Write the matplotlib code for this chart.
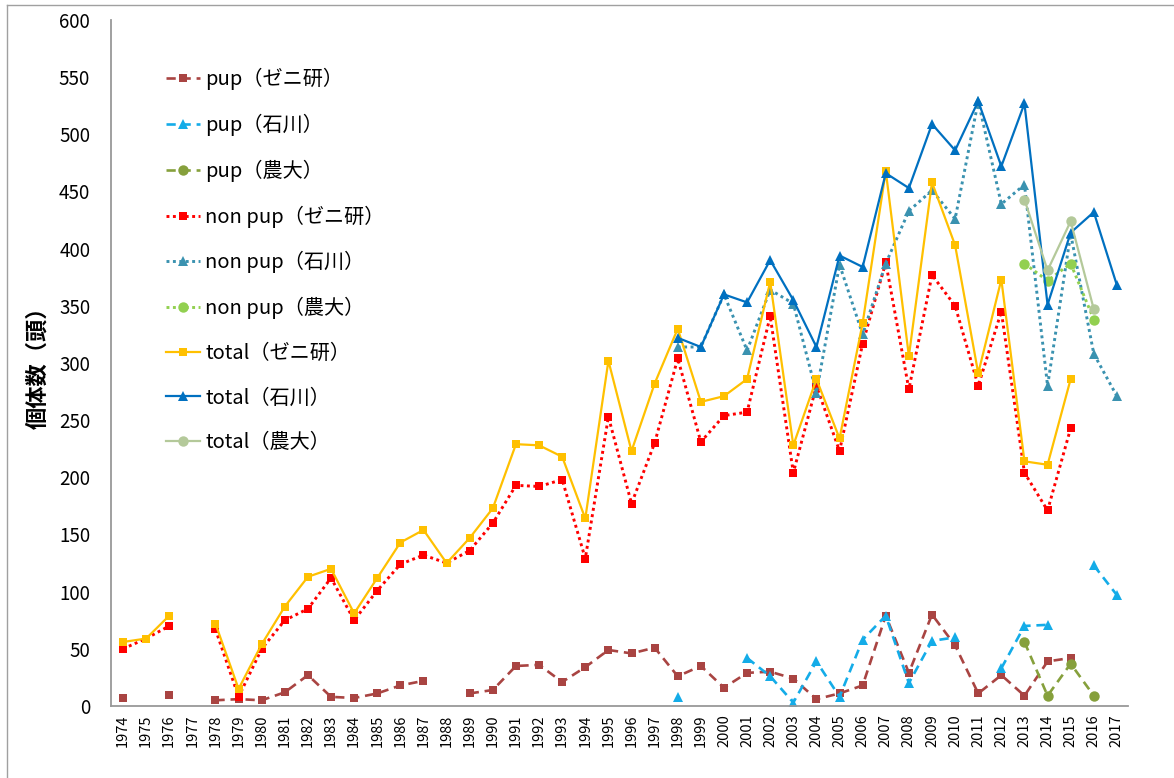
import matplotlib
matplotlib.use('Agg')
import matplotlib.pyplot as plt
from matplotlib.lines import Line2D
import numpy as np

plt.rcParams['font.family'] = ['Noto Sans CJK JP', 'DejaVu Sans']

nan = np.nan
years = list(range(1974, 2018))

# --- data ---
pup_zeni = [7, nan, 10, nan, 5, 6, 5, 12, 27, 8, 7, 11, 18, 22, nan, 11, 14, 35, 36, 21,
            34, 49, 46, 51, 26, 35, 16, 29, 30, 24, 6, 11, 18, 79, 29, 80, 53, 11, 27, 9,
            39, 42, nan, nan]
pup_ishi = [nan] * 24 + [8, nan, nan, 42, 26, 3, 39, 8, 58, 79, 20, 57, 60, nan, 33, 70,
                         71, nan, 123, 97]
pup_nodai = [nan] * 39 + [56, 9, 37, 9, nan]
nonpup_zeni = [50, 59, 70, nan, 67, 8, 50, 75, 85, 112, 75, 101, 124, 132, 125, 136, 160,
               193, 192, 198, 129, 253, 177, 230, 304, 231, 254, 257, 341, 204, 280, 223,
               317, 388, 277, 377, 350, 280, 345, 204, 171, 243, nan, nan]
nonpup_ishi = [nan] * 24 + [314, 314, 360, 311, 364, 352, 274, 386, 325, 387, 433, 451,
                            426, 529, 439, 456, 280, 413, 308, 271]
nonpup_nodai = [nan] * 39 + [387, 372, 387, 338, nan]
total_zeni = [56, 59, 79, nan, 72, 15, 54, 87, 113, 120, 81, 112, 143, 154, 125, 147, 173,
              229, 228, 218, 164, 302, 223, 282, 330, 266, 271, 286, 371, 228, 286, 234,
              335, 468, 306, 458, 403, 291, 373, 214, 211, 286, nan, nan]
total_ishi = [nan] * 24 + [322, 314, 360, 353, 390, 355, 314, 394, 384, 466, 453, 509,
                           486, 529, 472, 527, 351, 414, 432, 368]
total_nodai = [nan] * 39 + [443, 381, 424, 347, nan]

y_ticks = list(range(0, 601, 50))

# label, values, color, style, marker, markersize
SERIES = [
    ('pup（ゼニ研）', pup_zeni, '#A94442', 'dash', 's', 6),
    ('pup（石川）', pup_ishi, '#14ACE8', 'dash', '^', 7),
    ('pup（農大）', pup_nodai, '#86A03C', 'dash', 'o', 7.5),
    ('non pup（ゼニ研）', nonpup_zeni, '#FF0000', 'dot', 's', 6),
    ('non pup（石川）', nonpup_ishi, '#3A92B0', 'dot', '^', 7),
    ('non pup（農大）', nonpup_nodai, '#92D050', 'dot', 'o', 7.5),
    ('total（ゼニ研）', total_zeni, '#FFC000', 'solid', 's', 6),
    ('total（石川）', total_ishi, '#0070C0', 'solid', '^', 7),
    ('total（農大）', total_nodai, '#B4C99A', 'solid', 'o', 7.5),
]

fig = plt.figure(figsize=(11.74, 7.78), dpi=100)
ax = fig.add_axes([111 / 1174, 1 - 706 / 778, (1128 - 111) / 1174, (706 - 20) / 778])

for label, vals, color, style, marker, ms in SERIES:
    if style == 'dash':
        ls, lw = (0, (3.5, 2.2)), 1.9
    elif style == 'dot':
        ls, lw = (0, (1, 1.2)), 2.1
    else:
        ls, lw = '-', 1.6
    ax.plot(years, vals, color=color, linestyle=ls, linewidth=lw,
            marker=marker, markersize=ms, markeredgewidth=0, label=label)

ax.set_xlim(1973.48, 2017.48)
ax.set_ylim(0, 600)
ax.set_yticks(y_ticks)
ax.set_yticklabels([str(v) for v in y_ticks], fontsize=13.5)
ax.set_xticks(years)
ax.set_xticklabels([str(y) for y in years], rotation=90, fontsize=10.5)
ax.tick_params(axis='both', length=0)
ax.tick_params(axis='y', pad=15)
ax.tick_params(axis='x', pad=6)

for side in ['top', 'right']:
    ax.spines[side].set_visible(False)
for side in ['left', 'bottom']:
    ax.spines[side].set_color('#999999')
    ax.spines[side].set_linewidth(1.3)

leg = ax.legend(loc='upper left', bbox_to_anchor=(166 / 1174, 1 - 68 / 778),
                bbox_transform=fig.transFigure, frameon=False, fontsize=14.5,
                handlelength=1.7, handletextpad=0.25, labelspacing=1.17,
                borderpad=0, borderaxespad=0)

fig.text(38 / 1174, 1 - 362 / 778, '個体数（頭）', rotation=90, fontsize=16,
         fontweight='bold', ha='center', va='center')

# outer frame of the chart area
fig.add_artist(Line2D([7 / 1174, 7 / 1174], [0, 1 - 5 / 778], transform=fig.transFigure,
                      color='#A0A0A0', linewidth=1))
fig.add_artist(Line2D([7 / 1174, 1], [1 - 5 / 778, 1 - 5 / 778], transform=fig.transFigure,
                      color='#A0A0A0', linewidth=1))

fig.savefig('out.png', dpi=100)
